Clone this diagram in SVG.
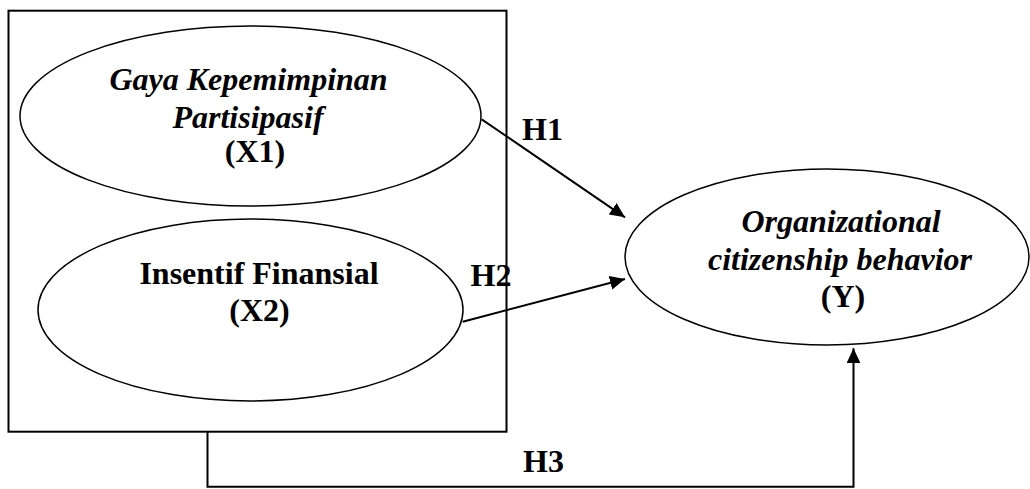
<svg xmlns="http://www.w3.org/2000/svg" width="1030" height="489" viewBox="0 0 1030 489">
<style>
.node{fill:#fff;stroke:#000;stroke-width:1.5}
.box{fill:none;stroke:#000;stroke-width:2}
.conn{fill:none;stroke:#000;stroke-width:2}
.t{font-family:"Liberation Serif","Times New Roman",serif;font-size:32px;font-weight:bold;fill:#000;text-anchor:middle}
.i{font-style:italic}
</style>
<defs>
<marker id="arrow" markerUnits="userSpaceOnUse" markerWidth="16" markerHeight="15" refX="15" refY="7" orient="auto">
<path d="M0,0 L15,7 L0,14 z" fill="#000"/>
</marker>
</defs>
<rect id="group-box" class="box" x="8.5" y="10.7" width="498" height="421"/>
<g id="x1">
<ellipse class="node" cx="250.5" cy="116" rx="230.5" ry="90"/>
<text class="t i" x="248.5" y="90">Gaya Kepemimpinan</text>
<text class="t i" x="248" y="127.5">Partisipasif</text>
<text class="t" x="255" y="161.5">(X1)</text>
</g>
<g id="x2">
<ellipse class="node" cx="250.5" cy="310" rx="212.5" ry="91"/>
<text class="t" x="259" y="283.5">Insentif Finansial</text>
<text class="t" x="259.5" y="321">(X2)</text>
</g>
<g id="y">
<ellipse class="node" cx="827" cy="257" rx="202" ry="88"/>
<text class="t i" x="841" y="231.5">Organizational</text>
<text class="t i" x="840" y="269.5">citizenship behavior</text>
<text class="t" x="843" y="306.5">(Y)</text>
</g>
<g id="connectors">
<line class="conn" x1="481.7" y1="119.3" x2="625" y2="217.3" marker-end="url(#arrow)"/>
<line class="conn" x1="462.7" y1="321.7" x2="625" y2="279" marker-end="url(#arrow)"/>
<path class="conn" d="M207.5,431.7 V486.7 H853.5 V348.3" marker-end="url(#arrow)"/>
</g>
<g id="labels">
<text class="t" x="542.5" y="140">H1</text>
<text class="t" x="491" y="286">H2</text>
<text class="t" x="543.5" y="471.7">H3</text>
</g>
</svg>
